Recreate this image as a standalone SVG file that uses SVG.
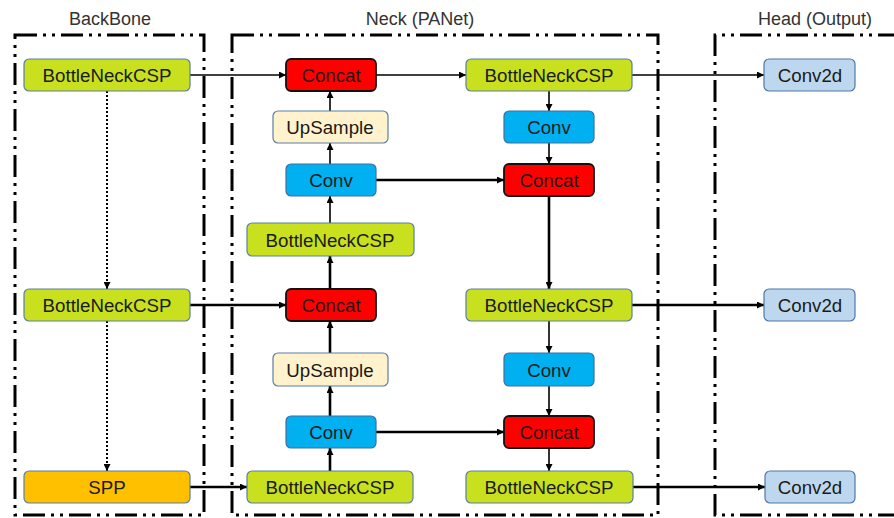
<svg xmlns="http://www.w3.org/2000/svg" width="894" height="518" viewBox="0 0 894 518">
<defs>
<marker id="ah" viewBox="0 0 10 10" refX="10" refY="5" markerWidth="8" markerHeight="7" markerUnits="userSpaceOnUse" orient="auto"><path d="M0,0 L10,5 L0,10 z" fill="#000"/></marker>
<style>
.frame{fill:none;stroke:#000;stroke-width:3;stroke-dasharray:22 6 3 6 3 6}
.title{font-family:"Liberation Sans",Arial,sans-serif;font-size:18px;fill:#333;text-anchor:middle}
.lbl{font-family:"Liberation Sans",Arial,sans-serif;font-size:18.7px;fill:#1a1a1a;text-anchor:middle;dominant-baseline:central}
.csp{fill:#c8e01e;stroke:#5b7fa8;stroke-width:1.2}
.conv{fill:#00b0f0;stroke:#3f6fa0;stroke-width:1.2}
.up{fill:#fff2cc;stroke:#5b7fa8;stroke-width:1.2}
.cat{fill:#ff0000;stroke:#111;stroke-width:1.8}
.spp{fill:#ffc000;stroke:#5b7fa8;stroke-width:1.2}
.c2d{fill:#bdd7ee;stroke:#4f79a8;stroke-width:1.2}
.e{fill:none;stroke:#000;stroke-width:1.6;marker-end:url(#ah)}
.t{stroke-width:2.6}
.d{fill:none;stroke:#000;stroke-width:2;stroke-dasharray:2 2;marker-end:url(#ah)}
</style>
</defs>
<rect width="894" height="518" fill="#fff"/>
<g id="frames">
<text class="title" x="110" y="25">BackBone</text>
<text class="title" x="420" y="25">Neck (PANet)</text>
<text class="title" x="815" y="25">Head (Output)</text>
<rect class="frame" x="15" y="35" width="189" height="480"/>
<rect class="frame" x="232" y="35" width="426" height="480"/>
<path class="frame" d="M900,35 H715 V515 H900"/>
</g>
<g id="connectors">
<line class="e" x1="190" y1="75" x2="286" y2="75"/>
<line class="e" x1="376" y1="75" x2="466" y2="75"/>
<line class="e" x1="632" y1="75" x2="764" y2="75"/>
<line class="e" x1="549" y1="91" x2="549" y2="111"/>
<line class="e" x1="549" y1="143" x2="549" y2="164"/>
<line class="e t" x1="376" y1="180" x2="504" y2="180"/>
<line class="e t" x1="549" y1="196" x2="549" y2="289"/>
<line class="e" x1="330" y1="111" x2="330" y2="91"/>
<line class="e" x1="330" y1="164" x2="330" y2="143"/>
<line class="e" x1="330" y1="223" x2="330" y2="196"/>
<line class="e t" x1="330" y1="289" x2="330" y2="256"/>
<line class="e t" x1="330" y1="353" x2="330" y2="321"/>
<line class="e t" x1="330" y1="416" x2="330" y2="386"/>
<line class="e t" x1="330" y1="471" x2="330" y2="448"/>
<line class="e t" x1="190" y1="305" x2="286" y2="305"/>
<line class="e t" x1="632" y1="305" x2="764" y2="305"/>
<line class="e" x1="549" y1="321" x2="549" y2="353"/>
<line class="e" x1="549" y1="386" x2="549" y2="416"/>
<line class="e t" x1="376" y1="432" x2="504" y2="432"/>
<line class="e" x1="549" y1="448" x2="549" y2="471"/>
<line class="e t" x1="190" y1="487" x2="247" y2="487"/>
<line class="e t" x1="633" y1="487" x2="765" y2="487"/>
<line class="d" x1="107" y1="91" x2="107" y2="289"/>
<line class="d" x1="107" y1="321" x2="107" y2="471"/>
</g>
<g id="bb_csp1"><rect class="csp" x="24" y="59" width="166" height="32" rx="5"/><text class="lbl" x="107" y="75">BottleNeckCSP</text></g>
<g id="bb_csp2"><rect class="csp" x="24" y="289" width="166" height="32" rx="5"/><text class="lbl" x="107" y="305">BottleNeckCSP</text></g>
<g id="bb_spp"><rect class="spp" x="24" y="471" width="166" height="32" rx="5"/><text class="lbl" x="107" y="487">SPP</text></g>
<g id="n_concat1"><rect class="cat" x="286" y="59" width="90" height="32" rx="5"/><text class="lbl" x="331" y="75">Concat</text></g>
<g id="n_up1"><rect class="up" x="273" y="111" width="115" height="32" rx="5"/><text class="lbl" x="330" y="127">UpSample</text></g>
<g id="n_conv1"><rect class="conv" x="286" y="164" width="90" height="32" rx="5"/><text class="lbl" x="331" y="180">Conv</text></g>
<g id="n_csp_l1"><rect class="csp" x="247" y="223" width="167" height="33" rx="5"/><text class="lbl" x="330" y="240">BottleNeckCSP</text></g>
<g id="n_concat2"><rect class="cat" x="286" y="289" width="90" height="32" rx="5"/><text class="lbl" x="331" y="305">Concat</text></g>
<g id="n_up2"><rect class="up" x="273" y="353" width="115" height="33" rx="5"/><text class="lbl" x="330" y="370">UpSample</text></g>
<g id="n_conv2"><rect class="conv" x="286" y="416" width="90" height="32" rx="5"/><text class="lbl" x="331" y="432">Conv</text></g>
<g id="n_csp_l2"><rect class="csp" x="247" y="471" width="166" height="32" rx="5"/><text class="lbl" x="330" y="487">BottleNeckCSP</text></g>
<g id="n_csp_r1"><rect class="csp" x="466" y="59" width="166" height="32" rx="5"/><text class="lbl" x="549" y="75">BottleNeckCSP</text></g>
<g id="n_conv_r1"><rect class="conv" x="504" y="111" width="90" height="32" rx="5"/><text class="lbl" x="549" y="127">Conv</text></g>
<g id="n_concat_r1"><rect class="cat" x="504" y="164" width="90" height="32" rx="5"/><text class="lbl" x="549" y="180">Concat</text></g>
<g id="n_csp_r2"><rect class="csp" x="466" y="289" width="166" height="32" rx="5"/><text class="lbl" x="549" y="305">BottleNeckCSP</text></g>
<g id="n_conv_r2"><rect class="conv" x="504" y="353" width="90" height="33" rx="5"/><text class="lbl" x="549" y="370">Conv</text></g>
<g id="n_concat_r2"><rect class="cat" x="504" y="416" width="90" height="32" rx="5"/><text class="lbl" x="549" y="432">Concat</text></g>
<g id="n_csp_r3"><rect class="csp" x="466" y="471" width="167" height="32" rx="5"/><text class="lbl" x="549" y="487">BottleNeckCSP</text></g>
<g id="h_conv2d_1"><rect class="c2d" x="764" y="59" width="91" height="32" rx="5"/><text class="lbl" x="810" y="75">Conv2d</text></g>
<g id="h_conv2d_2"><rect class="c2d" x="764" y="289" width="91" height="32" rx="5"/><text class="lbl" x="810" y="305">Conv2d</text></g>
<g id="h_conv2d_3"><rect class="c2d" x="765" y="471" width="90" height="32" rx="5"/><text class="lbl" x="810" y="487">Conv2d</text></g>
</svg>
